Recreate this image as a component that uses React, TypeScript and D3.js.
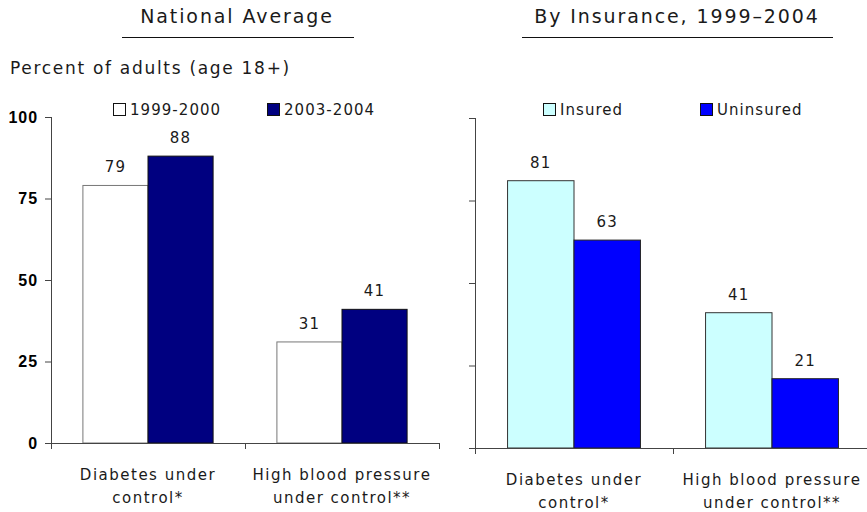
import * as d3 from "d3";

const categories = ["Diabetes under control*", "High blood pressure under control**"];
const categoryLines = [
  ["Diabetes under", "control*"],
  ["High blood pressure", "under control**"],
];
const yTicks = [0, 25, 50, 75, 100];

const nationalSeries = ["1999-2000", "2003-2004"];
const nationalValues = [
  [79, 88],
  [31, 41],
];

const insuranceSeries = ["Insured", "Uninsured"];
const insuranceValues = [
  [81, 63],
  [41, 21],
];

const W = 867,
  H = 512;
const FONT = "'DejaVu Sans', Verdana, sans-serif";
const BOLD_FONT = "'Liberation Sans', Arial, sans-serif";
const TEXT = "#1a1a1a";
const AXIS = "#444";

type PanelProps = {
  xRange: [number, number];
  yRange: [number, number];
  series: string[];
  values: number[][];
  fills: string[];
  strokes: string[];
  tickLabels: boolean;
  legendX: number[];
  title: string;
  titleX: number;
  underline: [number, number];
};

function Panel(p: PanelProps) {
  const x0 = d3.scaleBand().domain(categories).range(p.xRange).padding(0);
  const x1 = d3
    .scaleBand()
    .domain(p.series)
    .range([0, x0.bandwidth()])
    .paddingInner(0)
    .paddingOuter(0.49);
  const y = d3.scaleLinear().domain([0, 100]).range(p.yRange);
  const base = y(0);
  const ax = p.xRange[0];

  return (
    <g>
      <text
        x={p.titleX}
        y={23}
        textAnchor="middle"
        fontFamily={FONT}
        fontSize={19}
        letterSpacing="0.1em"
        fill={TEXT}
      >
        {p.title}
      </text>
      <line x1={p.underline[0]} x2={p.underline[1]} y1={37.5} y2={37.5} stroke="#111" strokeWidth={1} />

      {/* legend */}
      {p.series.map((s, i) => (
        <g key={s} transform={`translate(${p.legendX[i]},103)`}>
          <rect x={0.5} y={0.5} width={12} height={12} fill={p.fills[i]} stroke="#111" />
          <text x={17} y={12} fontFamily={FONT} fontSize={15} letterSpacing="0.07em" fill={TEXT}>
            {s}
          </text>
        </g>
      ))}

      {/* bars */}
      {categories.map((c, ci) =>
        p.series.map((s, si) => {
          const v = p.values[ci][si];
          const bx = (x0(c) ?? 0) + (x1(s) ?? 0);
          return (
            <g key={c + s}>
              <rect
                x={bx}
                y={y(v)}
                width={x1.bandwidth()}
                height={base - y(v)}
                fill={p.fills[si]}
                stroke={p.strokes[si]}
                strokeWidth={1}
              />
              <text
                x={bx + x1.bandwidth() / 2}
                y={y(v) - 13}
                textAnchor="middle"
                fontFamily={FONT}
                fontSize={15}
                letterSpacing="0.08em"
                fill={TEXT}
              >
                {v}
              </text>
            </g>
          );
        })
      )}

      {/* y axis */}
      <line x1={ax + 0.5} x2={ax + 0.5} y1={p.yRange[1]} y2={base} stroke={AXIS} />
      {yTicks.map((t) => (
        <g key={t}>
          <line x1={ax - 6} x2={ax} y1={y(t) + 0.5} y2={y(t) + 0.5} stroke={AXIS} />
          {p.tickLabels && (
            <text
              x={ax - 13}
              y={y(t) + 5.5}
              textAnchor="end"
              fontFamily={BOLD_FONT}
              fontWeight="bold"
              fontSize={16}
              letterSpacing="0.06em"
              fill="#000"
            >
              {t}
            </text>
          )}
        </g>
      ))}

      {/* x axis */}
      <line x1={ax} x2={p.xRange[1]} y1={base + 0.5} y2={base + 0.5} stroke={AXIS} />
      {[...categories.map((c) => x0(c) ?? 0), p.xRange[1]].map((tx, i) => (
        <line key={i} x1={tx + 0.5} x2={tx + 0.5} y1={base} y2={base + 6} stroke={AXIS} />
      ))}
      {categories.map((c, ci) =>
        categoryLines[ci].map((ln, li) => (
          <text
            key={c + li}
            x={(x0(c) ?? 0) + x0.bandwidth() / 2}
            y={base + 37 + li * 23}
            textAnchor="middle"
            fontFamily={FONT}
            fontSize={15}
            letterSpacing="0.1em"
            fill={TEXT}
          >
            {ln}
          </text>
        ))
      )}
    </g>
  );
}

export default function App() {
  return (
    <svg
      width={W}
      height={H}
      viewBox={`0 0 ${W} ${H}`}
      style={{ position: "absolute", left: 0, top: 0, background: "#fff", display: "block" }}
    >
      <rect width={W} height={H} fill="#fff" />
      <text x={10} y={74} fontFamily={FONT} fontSize={17} letterSpacing="0.1em" fill={TEXT}>
        Percent of adults (age 18+)
      </text>
      <Panel
        xRange={[51, 439]}
        yRange={[443, 117]}
        series={nationalSeries}
        values={nationalValues}
        fills={["#ffffff", "#000080"]}
        strokes={["#777", "#111"]}
        tickLabels={true}
        legendX={[113, 267]}
        title="National Average"
        titleX={237}
        underline={[122, 354]}
      />
      <Panel
        xRange={[475, 871]}
        yRange={[448, 118]}
        series={insuranceSeries}
        values={insuranceValues}
        fills={["#ccffff", "#0000ff"]}
        strokes={["#333", "#222"]}
        tickLabels={false}
        legendX={[543, 700]}
        title="By Insurance, 1999–2004"
        titleX={677}
        underline={[522, 833]}
      />
    </svg>
  );
}
